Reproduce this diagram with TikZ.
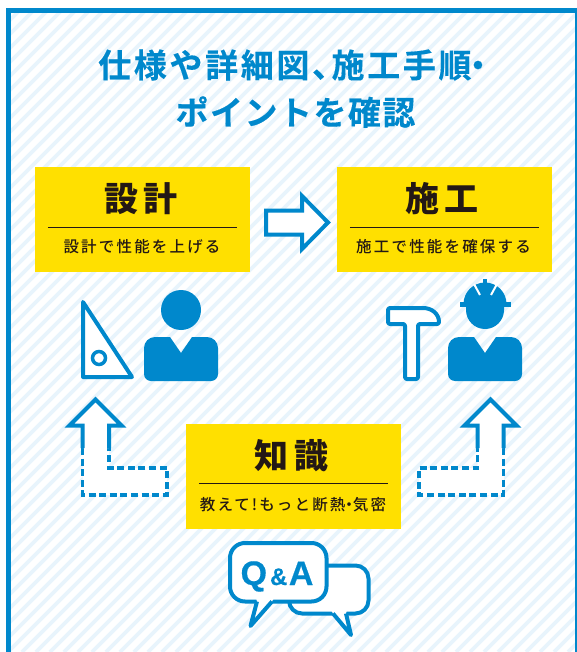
\documentclass[tikz,border=0pt]{standalone}
\usepackage{fontspec}
\setmainfont{Liberation Sans}
\newfontfamily\qafont{Liberation Sans Bold}[FakeBold=0.5]
\newfontfamily\cjkt{Noto Sans CJK JP Bold}[FakeBold=0.25,LetterSpace=8]
\newfontfamily\cjktb{Noto Sans CJK JP Bold}[FakeBold=0.25,LetterSpace=4.5]
\newfontfamily\cjkb{Noto Sans CJK JP Black}
\newfontfamily\cjkm{Noto Sans CJK JP Medium}[LetterSpace=14]
\definecolor{fblue}{HTML}{0088CC}
\definecolor{fyellow}{HTML}{FFE000}
\definecolor{fink}{HTML}{231815}
\definecolor{fstripe}{HTML}{E8F4FC}
\tikzset{
  ybox/.style={fill=fyellow,draw=none,minimum width=215pt,minimum height=105pt,inner sep=0pt},
  headtext/.style={text=fink,inner sep=0pt,font=\cjkb\fontsize{34}{38}\selectfont},
  subtext/.style={text=fink,inner sep=0pt,font=\cjkm\fontsize{15.5}{18}\selectfont},
  titletext/.style={text=fblue,inner sep=0pt,font=\cjkt\fontsize{33}{36}\selectfont},
  titletextb/.style={text=fblue,inner sep=0pt,font=\cjktb\fontsize{33}{36}\selectfont},
  boxrule/.style={draw=fink,line width=1pt},
  blockarrow/.style={draw=fblue,line width=4pt,fill=white,line join=miter},
  openhead/.style={draw=fblue,line width=4pt,line join=miter},
  dasharrow/.style={draw=fblue,line width=3.6pt,dash pattern=on 7pt off 3.6pt},
  iconfill/.style={fill=fblue,draw=none},
  iconline/.style={draw=fblue,line width=4pt,fill=white,line join=round},
  bubble/.style={draw=fblue,line width=4pt,line join=round},
  qatext/.style={text=fblue,inner sep=0pt,font=\qafont\fontsize{34}{38}\selectfont},
  pics/torso/.style={code={
    \fill[iconfill] (0,11) arc[start angle=180,end angle=90,radius=11pt] -- (26,0) -- (37,16) -- (48,0) -- (63,0)
      arc[start angle=90,end angle=0,radius=11pt] -- (74,37) arc[start angle=0,end angle=-90,radius=7pt]
      -- (7,44) arc[start angle=-90,end angle=-180,radius=7pt] -- cycle;
  }}
}
\begin{document}
\begin{tikzpicture}[x=1pt,y=-1pt]
\useasboundingbox (0,0) rectangle (577,652);
\fill[white] (0,0) rectangle (577,652);
% striped ground
\begin{scope}
\clip (8,10) rectangle (577,652);
\foreach \t in {-650,-636,...,580}{
  \draw[fstripe,line width=3.8pt] (\t,652) -- (\t+652,0);
}
\end{scope}
% frame
\draw[fblue,line width=5pt] (8.5,670) -- (8.5,10.5) -- (577.5,10.5) -- (577.5,670);
% title
\node[titletext,anchor=west] (title1) at (98,65) {仕様や詳細図、\hspace{-13.5pt}施工手順\hspace{-10pt}・};
\node[titletextb] (title2) at (295.5,112) {ポイントを確認};
% yellow boxes
\node[ybox] (design) at (142.5,219.5) {};
\node[ybox] (build) at (444.5,219.5) {};
\node[ybox] (know) at (293.5,476.5) {};
\node[headtext] (designT) at (141,199) {設\hspace{6pt}計};
\node[headtext] (buildT) at (442,199) {施\hspace{6pt}工};
\node[headtext] (knowT) at (291.5,456) {知\hspace{6pt}識};
\draw[boxrule] ([xshift=13pt,yshift=-7.5pt]design.west) -- ([xshift=-13pt,yshift=-7.5pt]design.east);
\draw[boxrule] ([xshift=13pt,yshift=-7.5pt]build.west) -- ([xshift=-13pt,yshift=-7.5pt]build.east);
\draw[boxrule] ([xshift=13pt,yshift=-7pt]know.west) -- ([xshift=-13pt,yshift=-7pt]know.east);
\node[subtext] (designS) at (142,247) {設計で性能を上げる};
\node[subtext] (buildS) at (443.5,247) {施工で性能を確保する};
\node[subtext] (knowS) at (293,504.5) {教えて\hspace{2pt}!\hspace{2pt}もっと断熱\hspace{-4pt}・\hspace{-4pt}気密};
% middle arrow
\draw[blockarrow] (266,210.5) -- (302,210.5) -- (302,196) -- (328,222.5) -- (302,249) -- (302,234.5) -- (266,234.5) -- cycle;
% left arrow
\fill[white] (82.5,495) -- (82.5,427) -- (109,427) -- (109,468) -- (167,468) -- (167,495) -- cycle;
\draw[dasharrow] (82.5,448) -- (82.5,495) -- (167,495) -- (167,468) -- (109,468) -- (109,448);
\fill[white] (82.5,448) -- (82.5,425.5) -- (69.5,425.5) -- (95.5,399.5) -- (121.5,425.5) -- (109,425.5) -- (109,448) -- cycle;
\draw[openhead] (82.5,448) -- (82.5,425.5) -- (69.5,425.5) -- (95.5,399.5) -- (121.5,425.5) -- (109,425.5) -- (109,448);
% right arrow
\fill[white] (504,495) -- (504,427) -- (477.5,427) -- (477.5,468) -- (419,468) -- (419,495) -- cycle;
\draw[dasharrow] (503.5,448) -- (503.5,495) -- (419,495) -- (419,468) -- (477.5,468) -- (477.5,448);
\fill[white] (503.5,448) -- (503.5,425.5) -- (516.5,425.5) -- (490.5,399.5) -- (464.5,425.5) -- (477.5,425.5) -- (477.5,448) -- cycle;
\draw[openhead] (503.5,448) -- (503.5,425.5) -- (516.5,425.5) -- (490.5,399.5) -- (464.5,425.5) -- (477.5,425.5) -- (477.5,448);
% set square
\draw[iconline] (83,302) -- (132,377) -- (83,377) -- cycle;
\draw[draw=fblue,line width=3.5pt,fill=white] (99,358) circle (6.5pt);
% designer
\fill[iconfill] (181,310) circle (20pt);
\pic at (144,337) {torso};
% hammer
\draw[iconline,rounded corners=2pt] (388,308) -- (388,324) -- (405,324) -- (405,379) -- (418,379) -- (418,324) -- (439,324) .. controls (439,314) and (432,308) .. (421,308) -- cycle;
% worker
\pic at (448,337) {torso};
\fill[iconfill] (466,304) -- (466,310) arc[start angle=180,end angle=360,radius=19pt] -- (504,304) -- cycle;
\fill[iconfill] (463.5,304) arc[start angle=180,end angle=0,radius=21.5pt] -- cycle;
\fill[iconfill] (460,302) rectangle (511,307);
\fill[iconfill] (483,279) rectangle (487,285);
\draw[white,line width=2pt] (474,284) -- (480,295);
\draw[white,line width=2pt] (497,284) -- (491,295);
% Q&A back bubble
\filldraw[bubble,fill=white,rounded corners=13pt] (289,565.5) rectangle (368.5,613.5);
\fill[white] (331,610) -- (347,610) -- (346,613.5) -- (351,635) -- (333,613.5) -- cycle;
\draw[bubble] (333,613.5) -- (351,635) -- (346,613.5);
% Q&A front bubble
\filldraw[bubble,fill=white,rounded corners=15pt] (230,543) rectangle (326.5,601.5);
\fill[white] (256,598) -- (274,598) -- (272,601.5) -- (250.5,626) -- (257,601.5) -- cycle;
\draw[bubble] (272,601.5) -- (250.5,626) -- (257,601.5);
\node[qatext,anchor=base] (qa) at (277,585) {Q\hspace{3pt}{\fontsize{24}{26}\selectfont\&}\hspace{1.5pt}A};
\end{tikzpicture}
\end{document}
